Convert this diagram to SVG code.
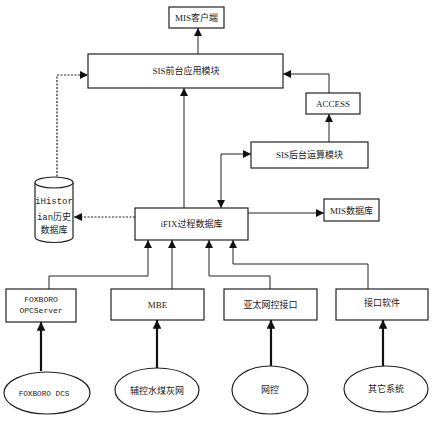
<svg xmlns="http://www.w3.org/2000/svg" width="436" height="423" viewBox="0 0 436 423">
<style>
.box{fill:#fff;stroke:#222;stroke-width:1.2}
.t{font-family:"Liberation Serif","Noto Sans CJK SC",serif;font-size:9px;fill:#222;text-anchor:middle}
.m{font-family:"Liberation Mono","Noto Sans CJK SC",monospace;font-size:8px;fill:#222;text-anchor:middle}
.ln{fill:none;stroke:#222;stroke-width:1}
.th{fill:none;stroke:#111;stroke-width:2.2}
.ds{fill:none;stroke:#222;stroke-width:1.2;stroke-dasharray:2,1.5}
</style>
<defs>
<marker id="a" viewBox="0 0 10 10" refX="10" refY="5" markerWidth="8" markerHeight="8" markerUnits="userSpaceOnUse" orient="auto"><path d="M0,0L10,5L0,10z" fill="#111"/></marker>
<marker id="as" viewBox="0 0 10 10" refX="10" refY="5" markerWidth="8" markerHeight="8" markerUnits="userSpaceOnUse" orient="auto-start-reverse"><path d="M0,0L10,5L0,10z" fill="#111"/></marker>
<marker id="b" viewBox="0 0 10 10" refX="10" refY="5" markerWidth="4" markerHeight="4" orient="auto"><path d="M0,0L10,5L0,10z" fill="#111"/></marker>
</defs>
<g id="connectors">
<line class="ln" x1="198" y1="54" x2="198" y2="28" marker-end="url(#a)"/>
<polyline class="ds" points="57,187 57,75 88,75" marker-end="url(#a)"/>
<polyline class="ln" points="329,93 329,74 283,74" marker-end="url(#a)"/>
<line class="ln" x1="329" y1="142" x2="329" y2="114" marker-end="url(#a)"/>
<line class="ln" x1="184" y1="208" x2="184" y2="88" marker-end="url(#a)"/>
<polyline class="ln" points="221,208 221,154 251,154" marker-start="url(#as)" marker-end="url(#a)"/>
<line class="ln" x1="248" y1="213" x2="324" y2="213" marker-end="url(#a)"/>
<line class="ds" x1="135" y1="217" x2="74" y2="217" marker-end="url(#a)"/>
<polyline class="ln" points="49,289 49,276 148,276 148,240" marker-end="url(#a)"/>
<line class="ln" x1="172" y1="289" x2="172" y2="240" marker-end="url(#a)"/>
<polyline class="ln" points="270,289 270,276 209,276 209,240" marker-end="url(#a)"/>
<polyline class="ln" points="368,289 368,264 233,264 233,240" marker-end="url(#a)"/>
<line class="th" x1="41" y1="371" x2="41" y2="322" marker-end="url(#b)"/>
<line class="th" x1="157" y1="368" x2="157" y2="320" marker-end="url(#b)"/>
<line class="th" x1="271" y1="366" x2="271" y2="320" marker-end="url(#b)"/>
<line class="th" x1="383" y1="366" x2="383" y2="320" marker-end="url(#b)"/>
</g>
<g id="mis-client"><rect class="box" x="169" y="7" width="55" height="21"/><text class="t" x="196.5" y="20.5">MIS客户端</text></g>
<g id="sis-front"><rect class="box" x="88" y="54" width="195" height="34"/><text class="t" x="186" y="73.5">SIS前台应用模块</text></g>
<g id="access"><rect class="box" x="306" y="93" width="54" height="21"/><text class="t" x="333" y="107">ACCESS</text></g>
<g id="sis-back"><rect class="box" x="251" y="142" width="117" height="26"/><text class="t" x="309.5" y="158">SIS后台运算模块</text></g>
<g id="ifix"><rect class="box" x="135" y="208" width="113" height="32"/><text class="t" x="191.5" y="227">iFIX过程数据库</text></g>
<g id="mis-db"><rect class="box" x="324" y="199" width="55" height="22"/><text class="t" x="351.5" y="213.5">MIS数据库</text></g>
<g id="historian">
<path class="box" d="M35,182.5 L35,237 A19,5.5 0 0 0 73,237 L73,182.5"/>
<ellipse class="box" cx="54" cy="182.5" rx="19" ry="5.5"/>
<text class="m" x="54" y="204" style="font-size:9px">iHistor</text>
<text class="m" x="54" y="220" style="font-size:9px">ian历史</text>
<text class="t" x="54" y="233">数据库</text>
</g>
<g id="foxboro-opc"><rect class="box" x="6" y="289" width="70" height="33"/><text class="m" x="41" y="302">FOXBORO</text><text class="m" x="41" y="313">OPCServer</text></g>
<g id="mbe"><rect class="box" x="111" y="289" width="93" height="31"/><text class="t" x="157.5" y="308">MBE</text></g>
<g id="yatai"><rect class="box" x="224" y="289" width="93" height="31"/><text class="t" x="270.5" y="308">亚太网控接口</text></g>
<g id="jiekou"><rect class="box" x="336" y="289" width="92" height="31"/><text class="t" x="382" y="306">接口软件</text></g>
<g id="foxboro-dcs"><ellipse class="box" cx="47" cy="393" rx="43" ry="21"/><text class="m" x="44" y="396" style="font-size:7.7px">FOXBORO DCS</text></g>
<g id="fukong"><ellipse class="box" cx="157" cy="390" rx="42" ry="22"/><text class="t" x="157" y="394">辅控水煤灰网</text></g>
<g id="wangkong"><ellipse class="box" cx="270" cy="390" rx="38" ry="24"/><text class="t" x="270" y="393">网控</text></g>
<g id="qita"><ellipse class="box" cx="386" cy="389" rx="42" ry="23"/><text class="t" x="386" y="392">其它系统</text></g>
</svg>
